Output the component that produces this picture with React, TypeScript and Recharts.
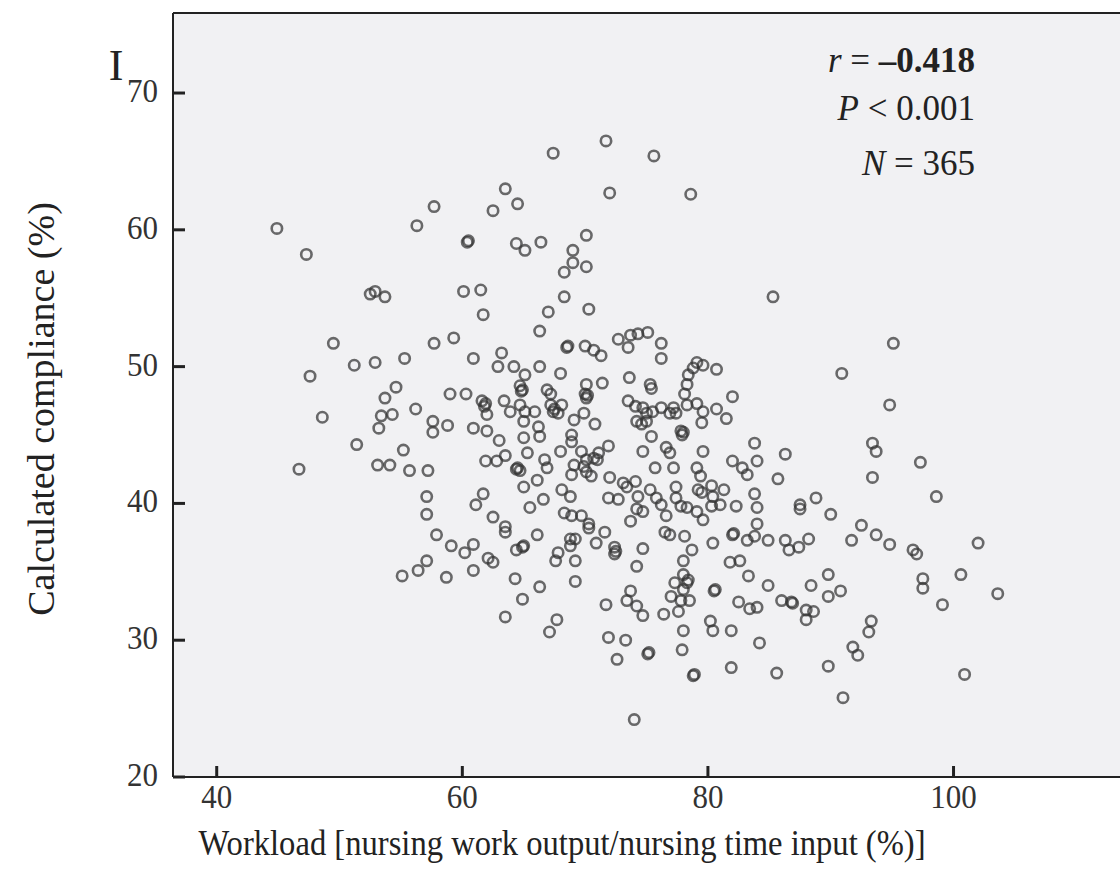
import { ScatterChart, Scatter, XAxis, YAxis, CartesianGrid, ReferenceLine } from "recharts"

// ── data: [workload %, calculated compliance %] ──────────────────────────────

const upperPoints = [
  [44.9, 60.1], [47.3, 58.2], [52.5, 55.3], [52.9, 55.5], [53.7, 55.1], [56.3, 60.3], [57.7, 61.7],
  [60.4, 59.1], [60.5, 59.2], [60.1, 55.5], [61.5, 55.6], [61.7, 53.8], [63.5, 63.0], [62.5, 61.4],
  [64.5, 61.9], [67.4, 65.6], [71.7, 66.5], [75.6, 65.4], [72.0, 62.7], [78.6, 62.6], [64.4, 59.0],
  [65.1, 58.5], [66.4, 59.1], [70.1, 59.6], [69.0, 58.5], [69.0, 57.6], [70.1, 57.3], [68.3, 56.9],
  [68.3, 55.1], [67.0, 54.0], [70.3, 54.2], [85.3, 55.1],
  [66.3, 52.6], [72.7, 52.0], [73.7, 52.3], [74.3, 52.4], [75.1, 52.5], [73.5, 51.4], [76.2, 51.7],
  [76.2, 50.6], [68.5, 51.4], [68.6, 51.5], [70.0, 51.5], [70.7, 51.2], [71.3, 50.8],
]

const leftPoints = [
  [49.5, 51.7], [47.6, 49.3], [51.2, 50.1], [52.9, 50.3], [55.3, 50.6], [57.7, 51.7], [59.3, 52.1],
  [60.9, 50.6], [63.2, 51.0], [62.9, 50.0], [54.6, 48.5], [53.7, 47.7], [48.6, 46.3], [53.4, 46.4],
  [54.3, 46.5], [53.2, 45.5], [56.2, 46.9], [57.6, 46.0], [57.6, 45.2], [58.8, 45.7], [59.0, 48.0],
  [60.3, 48.0], [61.8, 47.1], [61.9, 47.3], [61.6, 47.5], [62.0, 46.5], [60.9, 45.5], [62.0, 45.3],
  [63.4, 47.5], [63.0, 44.6], [51.4, 44.3], [55.2, 43.9], [53.1, 42.8], [54.1, 42.8], [55.7, 42.4],
  [57.2, 42.4], [46.7, 42.5], [61.9, 43.1], [62.8, 43.1], [63.5, 43.5], [57.1, 40.5], [57.1, 39.2],
  [61.7, 40.7], [61.1, 39.9], [62.5, 39.0], [63.5, 38.3],
  [57.9, 37.7], [59.1, 36.9], [60.2, 36.4], [60.9, 37.0], [62.1, 36.0], [62.5, 35.7], [63.5, 37.9],
  [57.1, 35.8], [56.4, 35.1], [55.1, 34.7], [58.7, 34.6], [60.9, 35.1], [63.5, 31.7], [64.3, 34.5],
  [64.4, 36.6],
]

const centrePoints = [
  [64.2, 50.0], [66.3, 50.0], [65.1, 49.4], [64.7, 48.6], [64.8, 48.2], [64.9, 48.3], [68.0, 49.5],
  [66.9, 48.3], [67.2, 48.0], [70.1, 48.7], [70.0, 48.0], [70.1, 47.7], [70.2, 47.9], [71.4, 48.8],
  [73.6, 49.2], [75.3, 48.7], [75.4, 48.4], [78.3, 48.7], [78.8, 49.9], [79.1, 50.3], [79.6, 50.1],
  [80.7, 49.8], [78.4, 49.4], [78.1, 48.0], [82.0, 47.8], [73.5, 47.5], [74.1, 47.1], [74.7, 47.0],
  [75.0, 46.6], [75.5, 46.7], [76.2, 47.0], [77.2, 47.0], [76.9, 46.6], [77.4, 46.6], [74.2, 46.0],
  [74.6, 45.8], [75.0, 46.0], [78.3, 47.2], [79.1, 47.3], [79.6, 46.7], [80.7, 46.9], [81.5, 46.2],
  [79.5, 45.9], [77.8, 45.3], [77.9, 45.0], [78.0, 45.2], [75.4, 44.9], [74.7, 43.8], [76.6, 44.1],
  [76.9, 43.7], [77.2, 42.6], [75.7, 42.6], [79.1, 42.6], [79.4, 42.0], [79.6, 43.8], [83.8, 44.4],
  [82.0, 43.1], [82.8, 42.6], [83.2, 42.1], [84.0, 43.1], [79.2, 41.0], [79.5, 40.8], [80.3, 41.3],
  [80.4, 40.5], [81.3, 41.0], [81.0, 39.9], [80.3, 39.8], [82.3, 39.8], [83.8, 40.7], [84.0, 39.7],
  [77.4, 41.2], [77.4, 40.4], [77.8, 39.8], [78.3, 39.7], [76.2, 39.9], [76.6, 39.1], [79.1, 39.4],
  [79.6, 38.8], [75.3, 41.0], [75.8, 40.4], [74.3, 40.5], [74.2, 39.6], [73.7, 38.7], [72.0, 41.9],
  [73.1, 41.5], [74.1, 41.6], [71.9, 40.4], [72.7, 40.3], [73.4, 41.2], [74.7, 39.4], [68.0, 43.8],
  [69.7, 43.8], [70.1, 43.2], [70.7, 43.3], [71.1, 43.7], [71.0, 43.2], [71.9, 44.2], [69.1, 42.8],
  [68.9, 42.1], [69.9, 42.7], [70.1, 42.3], [70.5, 42.0], [68.9, 45.0], [68.9, 44.5], [70.8, 45.8],
  [69.9, 46.6], [69.1, 46.1], [67.4, 46.7], [67.8, 46.6], [68.1, 47.2], [67.2, 47.2], [67.5, 46.9],
  [66.2, 45.6], [66.3, 44.9], [63.9, 46.7], [64.7, 47.2], [65.1, 46.7], [65.0, 46.0], [65.9, 46.7],
  [65.0, 44.8], [65.3, 43.7], [66.7, 43.2], [66.9, 42.6], [64.4, 42.5], [64.7, 42.4], [64.5, 42.6],
  [66.1, 41.7], [65.0, 41.2], [68.1, 41.0], [68.8, 40.5], [66.6, 40.3], [65.5, 39.7], [68.3, 39.3],
  [68.9, 39.1], [69.7, 39.1], [70.3, 38.5],
]

const lowerPoints = [
  [66.1, 37.7], [64.9, 36.8], [65.0, 36.9], [67.8, 36.4], [67.6, 35.8], [68.8, 37.4], [69.2, 37.4],
  [68.8, 36.9], [69.2, 35.8], [70.3, 38.2], [70.9, 37.1], [71.6, 37.9], [72.4, 36.8], [72.4, 36.3],
  [72.5, 36.5], [74.7, 36.7], [74.2, 35.4], [64.9, 33.0], [66.3, 33.9], [69.2, 34.3], [67.7, 31.5],
  [67.1, 30.6], [71.7, 32.6], [73.7, 33.6], [73.4, 32.9], [74.2, 32.5], [74.7, 31.8], [71.9, 30.2],
  [73.3, 30.0], [72.6, 28.6], [75.1, 29.0], [75.2, 29.1], [74.0, 24.2], [76.5, 37.9], [76.9, 37.7],
  [78.1, 37.6], [78.7, 36.6], [78.0, 35.8], [77.3, 34.2], [78.0, 34.8], [78.3, 34.2], [78.4, 34.4],
  [78.0, 33.7], [77.0, 33.2], [77.8, 32.9], [78.5, 32.9], [77.6, 32.1], [76.4, 31.9], [78.0, 30.7],
  [77.9, 29.3], [78.8, 27.4], [78.9, 27.5], [80.4, 37.1], [82.0, 37.7], [82.1, 37.8], [83.2, 37.3],
  [83.8, 37.6], [84.0, 38.5], [81.8, 35.7], [82.6, 35.8], [83.3, 34.7], [80.5, 33.6], [80.6, 33.7],
  [82.5, 32.8], [83.4, 32.3], [84.0, 32.4], [80.2, 31.4], [80.4, 30.7], [81.9, 30.7], [84.2, 29.8],
  [81.9, 28.0],
]

const rightPoints = [
  [84.9, 37.3], [86.3, 37.3], [86.6, 36.6], [87.4, 36.8], [88.2, 37.4], [91.7, 37.3], [92.5, 38.4],
  [93.7, 37.7], [94.8, 37.0], [96.7, 36.6], [97.0, 36.3], [102.0, 37.1], [84.9, 34.0], [89.8, 34.8],
  [88.4, 34.0], [89.8, 33.2], [90.8, 33.6], [86.0, 32.9], [86.8, 32.8], [86.9, 32.7], [88.0, 32.2],
  [88.6, 32.1], [88.0, 31.5], [100.6, 34.8], [97.5, 34.5], [97.5, 33.8], [99.1, 32.6], [103.6, 33.4],
  [93.3, 31.4], [93.1, 30.6], [91.8, 29.5], [92.2, 28.9], [85.6, 27.6], [89.8, 28.1], [91.0, 25.8],
  [100.9, 27.5],
  [95.1, 51.7], [90.9, 49.5], [94.8, 47.2], [93.4, 44.4], [93.7, 43.8], [86.3, 43.6], [85.7, 41.8],
  [97.3, 43.0], [93.4, 41.9], [98.6, 40.5], [88.8, 40.4], [87.5, 39.9], [87.5, 39.6], [90.0, 39.2],
]

const xTicks = [40, 60, 80, 100]
const yTicks = [20, 30, 40, 50, 60, 70]

const points = [...upperPoints, ...leftPoints, ...centrePoints, ...lowerPoints, ...rightPoints]
  .map(([x, y]) => ({ x, y }))

// ── style ────────────────────────────────────────────────────────────────────

const SERIF = "'Liberation Serif', 'Times New Roman', serif"
const INK = "#222"
const X_DOMAIN: [number, number] = [36.44, 114.37]
const Y_DOMAIN: [number, number] = [20, 75.85]
// the source figure is a little stretched vertically, so its glyphs are tall
const STRETCH = 1.12

const axisLine = { stroke: INK, strokeWidth: 2 }
const tickLine = { stroke: INK, strokeWidth: 3 }

function XTick({ x, y, payload }: any) {
  return (
    <g transform={`translate(${x},${y}) scale(1,${STRETCH})`}>
      <text textAnchor="middle" dy={20.5} fill="#333" fontSize={31} fontFamily={SERIF}>
        {payload.value}
      </text>
    </g>
  )
}

function YTick({ x, y, payload }: any) {
  return (
    <g transform={`translate(${x},${y}) scale(1,${STRETCH})`}>
      <text textAnchor="end" dy={8} fill="#333" fontSize={31} fontFamily={SERIF}>
        {payload.value}
      </text>
    </g>
  )
}

function Ring(props: any) {
  const { cx, cy } = props
  if (cx == null || cy == null) return null
  return (
    <circle cx={cx} cy={cy} r={5.2} fill="none" stroke="#333" strokeOpacity={0.72} strokeWidth={2.6} />
  )
}

export default function App() {
  return (
    <div style={{ position: "absolute", left: 0, top: 0, width: 1120, height: 872, overflow: "hidden", background: "#fff" }}>
      <ScatterChart width={1140} height={872} margin={{ top: 13, right: 10, bottom: 0, left: 0 }}>
        <CartesianGrid horizontal={false} vertical={false} fill="#f1f1f3" stroke="none" />
        <XAxis
          type="number"
          dataKey="x"
          domain={X_DOMAIN}
          allowDataOverflow
          ticks={xTicks}
          height={95}
          tickSize={-11}
          tickMargin={19}
          tick={<XTick />}
          tickLine={tickLine}
          axisLine={axisLine}
        />
        <YAxis
          type="number"
          dataKey="y"
          domain={Y_DOMAIN}
          allowDataOverflow
          ticks={yTicks}
          width={173}
          tickSize={-12}
          tickMargin={27}
          tick={<YTick />}
          tickLine={tickLine}
          axisLine={axisLine}
        />
        <ReferenceLine y={Y_DOMAIN[1]} stroke={INK} strokeWidth={2} />
        <Scatter data={points} shape={Ring} isAnimationActive={false} />
      </ScatterChart>

      <svg width={1120} height={872} style={{ position: "absolute", left: 0, top: 0, pointerEvents: "none" }}>
        <g fontFamily={SERIF} fill={INK}>
          <g fontSize={35}>
            <text x={975} y={72} textAnchor="end">
              <tspan fontStyle="italic">r</tspan>
              <tspan> = </tspan>
              <tspan fontWeight="bold">–0.418</tspan>
            </text>
            <text x={975} y={120} textAnchor="end">
              <tspan fontStyle="italic">P</tspan>
              <tspan> {"<"} 0.001</tspan>
            </text>
            <text x={975} y={175} textAnchor="end">
              <tspan fontStyle="italic">N</tspan>
              <tspan> = 365</tspan>
            </text>
          </g>
          <g transform={`translate(562,855) scale(1,${STRETCH})`}>
            <text textAnchor="middle" fontSize={32.6}>
              Workload [nursing work output/nursing time input (%)]
            </text>
          </g>
          <text x={54} y={409} textAnchor="middle" fontSize={38} transform="rotate(-90 54 409)">
            Calculated compliance (%)
          </text>
          <text x={116} y={80} textAnchor="middle" fontSize={44} fontWeight="300">I</text>
        </g>
      </svg>
    </div>
  )
}
